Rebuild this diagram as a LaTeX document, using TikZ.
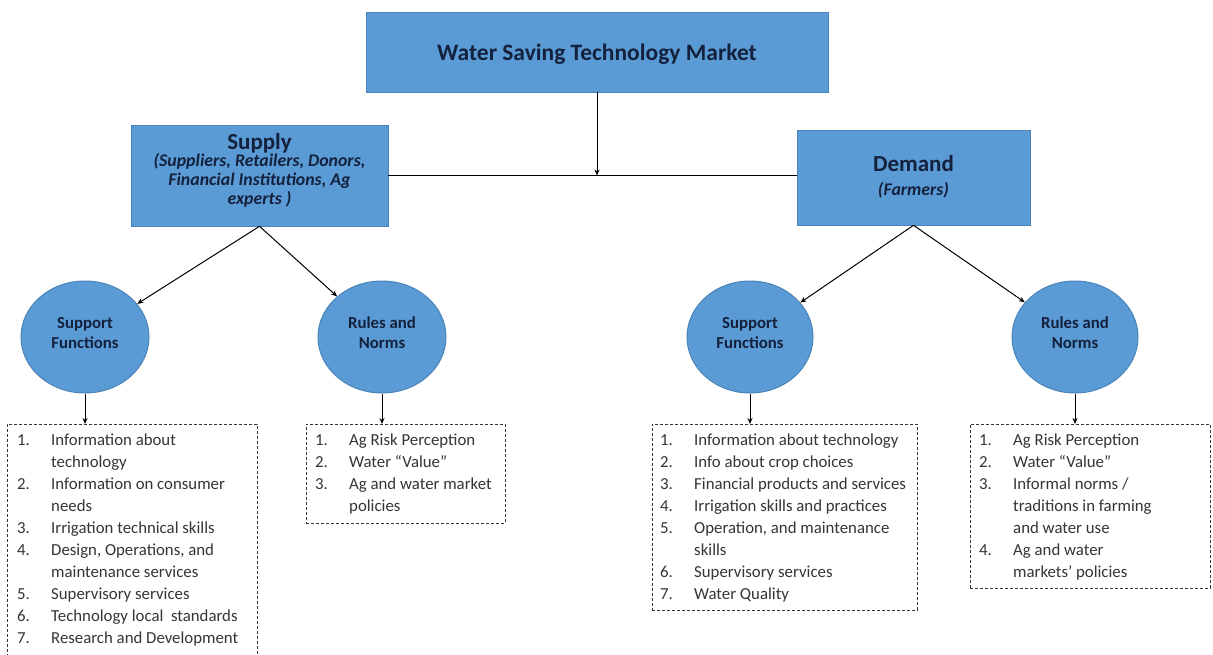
\documentclass[tikz,border=0pt]{standalone}
\usepackage{fontspec}
\setmainfont{Carlito}
\usetikzlibrary{arrows.meta,shapes.geometric}
\definecolor{boxblue}{HTML}{5B9BD5}
\definecolor{boxedge}{HTML}{4A83B8}
\definecolor{navy}{HTML}{14213D}
\definecolor{listtext}{HTML}{353535}
\newcommand{\itm}[2]{\makebox[34pt][l]{#1}#2}
\newcommand{\cnt}[1]{\hspace*{34pt}#1}
\tikzset{
  bluebox/.style={draw=boxedge, fill=boxblue, line width=0.6pt, inner sep=0pt},
  bluecirc/.style={ellipse, draw=boxedge, fill=boxblue, line width=1pt, inner sep=0pt},
  dashbox/.style={draw=black!80, dashed, dash pattern=on 3pt off 2pt, line width=0.7pt, inner sep=0pt},
  listtxt/.style={anchor=north west, inner sep=0pt, align=left, text=listtext, font=\fontsize{16.8}{22}\selectfont},
  conn/.style={draw=black, line width=1pt, -{Stealth[length=6pt,width=5pt]}},
  plain/.style={draw=black, line width=1pt},
  circtxt/.style={text=navy, font=\bfseries\fontsize{16.8}{20}\selectfont, align=center, inner sep=0pt},
  headtxt/.style={text=navy, font=\bfseries\fontsize{23}{24}\selectfont, inner sep=0pt},
  subtxt/.style={text=navy, font=\bfseries\itshape\fontsize{17.8}{19}\selectfont, align=center, inner sep=0pt}
}
\begin{document}
\begin{tikzpicture}[x=1pt,y=-1pt]
\useasboundingbox (0,0) rectangle (1213,655);
\clip (0,0) rectangle (1213,655);
\fill[white] (0,0) rectangle (1213,655);
% top box
\node[bluebox, minimum width=462pt, minimum height=80pt] (top) at (597,52) {};
\node[text=navy, font=\bfseries\fontsize{23.5}{24}\selectfont, inner sep=0pt] (toptxt) at (597,54) {Water Saving Technology Market};
% supply
\node[bluebox, minimum width=257pt, minimum height=101pt] (sup) at (259.5,175.5) {};
\node[headtxt] (suphd) at (259.5,143) {Supply};
\node[subtxt] (supsub) at (259.5,180) {(Suppliers, Retailers, Donors,\\ Financial Institutions, Ag\\ experts )};
% demand
\node[bluebox, minimum width=233pt, minimum height=95pt] (dem) at (913.5,177.5) {};
\node[headtxt] (demhd) at (913.5,164) {Demand};
\node[subtxt] (demsub) at (913.5,190) {(Farmers)};
% connector top
\coordinate (junc) at (top.south |- sup.east);
\draw[conn] (top.south) -- (junc);
\draw[plain] (sup.east) -- (sup.east -| dem.west);
% circles
\node[bluecirc, minimum width=128pt, minimum height=112pt] (ssf) at (85,337) {};
\node[circtxt] (ssft) at (85,333) {Support\\Functions};
\node[bluecirc, minimum width=128pt, minimum height=112pt] (srn) at (382,337) {};
\node[circtxt] (srnt) at (382,333) {Rules and\\Norms};
\node[bluecirc, minimum width=126pt, minimum height=112pt] (dsf) at (750,337) {};
\node[circtxt] (dsft) at (750,333) {Support\\Functions};
\node[bluecirc, minimum width=126pt, minimum height=112pt] (drn) at (1075,337) {};
\node[circtxt] (drnt) at (1075,333) {Rules and\\Norms};
\draw[conn] (sup.south) -- (ssf);
\draw[conn] (sup.south) -- (srn);
\draw[conn] (dem.south) -- (dsf);
\draw[conn] (dem.south) -- (drn);
% dashed boxes
\node[dashbox, anchor=north west, minimum width=250pt, minimum height=260pt] (sfl) at (7,424) {};
\node[dashbox, anchor=north west, minimum width=199pt, minimum height=99pt] (srl) at (306,424) {};
\node[dashbox, anchor=north west, minimum width=265pt, minimum height=186pt] (dfl) at (652,424) {};
\node[dashbox, anchor=north west, minimum width=240pt, minimum height=164pt] (drl) at (970,424) {};
\draw[conn] (ssf.south) -- (sfl.north -| ssf.south);
\draw[conn] (srn.south) -- (srl.north -| srn.south);
\draw[conn] (dsf.south) -- (dfl.north -| dsf.south);
\draw[conn] (drn.south) -- (drl.north -| drn.south);
% lists
\node[listtxt] (sflt) at (17,434) {\itm{1.}{Information about}\\ \cnt{technology}\\ \itm{2.}{Information on consumer}\\ \cnt{needs}\\ \itm{3.}{Irrigation technical skills}\\ \itm{4.}{Design, Operations, and}\\ \cnt{maintenance services}\\ \itm{5.}{Supervisory services}\\ \itm{6.}{Technology local\ \ standards}\\ \itm{7.}{Research and Development}};
\node[listtxt] (srlt) at (315,434) {\itm{1.}{Ag Risk Perception}\\ \itm{2.}{Water “Value”}\\ \itm{3.}{Ag and water market}\\ \cnt{policies}};
\node[listtxt] (dflt) at (660,434) {\itm{1.}{Information about technology}\\ \itm{2.}{Info about crop choices}\\ \itm{3.}{Financial products and services}\\ \itm{4.}{Irrigation skills and practices}\\ \itm{5.}{Operation, and maintenance}\\ \cnt{skills}\\ \itm{6.}{Supervisory services}\\ \itm{7.}{Water Quality}};
\node[listtxt] (drlt) at (979,434) {\itm{1.}{Ag Risk Perception}\\ \itm{2.}{Water “Value”}\\ \itm{3.}{Informal norms /}\\ \cnt{traditions in farming}\\ \cnt{and water use}\\ \itm{4.}{Ag and water}\\ \cnt{markets’ policies}};
\end{tikzpicture}
\end{document}
